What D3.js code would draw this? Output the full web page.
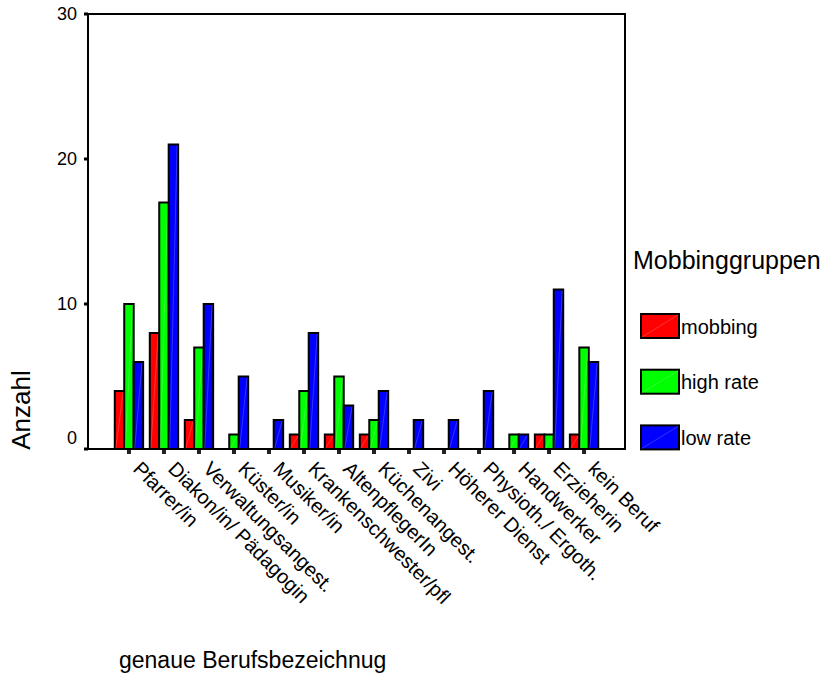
<!DOCTYPE html>
<html>
<head>
<meta charset="utf-8">
<script src="https://cdn.jsdelivr.net/npm/d3@7"></script>
<style>
  html, body { margin: 0; padding: 0; background: #fff; }
  svg { display: block; font-family: "Liberation Sans", Arial, Helvetica, sans-serif; }
</style>
</head>
<body>
<svg id="chart" width="832" height="678"></svg>
<script>
const categories = ["Pfarrer/in", "Diakon/in/ Pädagogin", "Verwaltungsangest.", "Küster/in", "Musiker/in",
  "Krankenschwester/pfl", "AltenpflegerIn", "Küchenangest.", "Zivi", "Höherer Dienst",
  "Physioth./ Ergoth.", "Handwerker", "Erzieherin", "kein Beruf"];
const seriesNames = ["mobbing", "high rate", "low rate"];
const mobbing  = [4, 8, 2, 0, 0, 1, 1, 1, 0, 0, 0, 0, 1, 1];
const highRate = [10, 17, 7, 1, 0, 4, 5, 2, 0, 0, 0, 1, 1, 7];
const lowRate  = [6, 21, 10, 5, 2, 8, 3, 4, 2, 2, 4, 1, 11, 6];
const yTicks = [0, 10, 20, 30];
const colors = ["#ff0000", "#00ff00", "#0000ff"];
const legendTitle = "Mobbinggruppen";
const xTitle = "genaue Berufsbezeichnug";
const yTitle = "Anzahl";

const seriesValues = [mobbing, highRate, lowRate];
const svg = d3.select("#chart");
const L = 88, T = 14, R = 625, B = 449;

const x = d3.scalePoint().domain(categories).range([L, R]).padding(1.17);
const groupW = x.step() * 0.81;
const xi = d3.scaleBand().domain(seriesNames).range([-groupW / 2, groupW / 2]);
const y = d3.scaleLinear().domain([0, 30]).range([B, T]);

// bars
const data = [];
categories.forEach((c, i) => seriesNames.forEach((s, j) => {
  data.push({ c, s, j, v: seriesValues[j][i] });
}));
const bars = svg.append("g").selectAll("g").data(data.filter(d => d.v > 0)).join("g");
bars.append("rect")
  .attr("x", d => x(d.c) + xi(d.s))
  .attr("y", d => y(d.v))
  .attr("width", xi.bandwidth())
  .attr("height", d => y(0) - y(d.v))
  .attr("fill", d => colors[d.j])
  .attr("stroke", "#000")
  .attr("stroke-width", 2);
bars.append("line")
  .attr("x1", d => x(d.c) + xi(d.s) + 1)
  .attr("y1", d => y(0) - 1)
  .attr("x2", d => x(d.c) + xi(d.s) + xi.bandwidth() - 1)
  .attr("y2", d => y(d.v) + 1)
  .attr("stroke", "#fff")
  .attr("stroke-opacity", 0.2)
  .attr("stroke-width", 1);

// frame
svg.append("rect").attr("x", L).attr("y", T).attr("width", R - L).attr("height", B - T)
  .attr("fill", "none").attr("stroke", "#000").attr("stroke-width", 2);

// y axis ticks
const yg = svg.append("g");
yg.selectAll("rect").data(yTicks).join("rect")
  .attr("x", L - 4).attr("y", d => y(d) - 1.5).attr("width", 4).attr("height", 3).attr("fill", "#000");
yg.selectAll("text").data(yTicks).join("text")
  .attr("x", 77).attr("y", d => y(d) + (d === 0 ? -11 : 0))
  .attr("dy", "0.35em").attr("text-anchor", "end")
  .attr("font-size", 18).attr("fill", "#000")
  .text(d => d);

// x axis ticks
const xg = svg.append("g");
xg.selectAll("rect").data(categories).join("rect")
  .attr("x", d => x(d) - 2).attr("y", B + 1).attr("width", 4).attr("height", 4).attr("fill", "#222");
xg.selectAll("text").data(categories).join("text")
  .attr("transform", d => `translate(${x(d) + 3},${B + 21}) rotate(45)`)
  .attr("text-anchor", "start").attr("font-size", 20).attr("fill", "#000")
  .text(d => d);

// axis titles
svg.append("text").attr("transform", `translate(30,410) rotate(-90)`)
  .attr("text-anchor", "middle").attr("font-size", 26).attr("fill", "#000").text(yTitle);
svg.append("text").attr("x", 119).attr("y", 668)
  .attr("font-size", 23).attr("fill", "#000").text(xTitle);

// legend
const lg = svg.append("g");
lg.append("text").attr("x", 633).attr("y", 269).attr("font-size", 25).attr("fill", "#000").text(legendTitle);
const items = lg.selectAll("g").data(seriesNames).join("g")
  .attr("transform", (d, i) => `translate(641,${314 + i * 55.7})`);
items.append("rect").attr("width", 38).attr("height", 24)
  .attr("fill", (d, i) => colors[i]).attr("stroke", "#000").attr("stroke-width", 2);
items.append("line").attr("x1", 1).attr("y1", 23).attr("x2", 37).attr("y2", 1)
  .attr("stroke", "#fff").attr("stroke-opacity", 0.2).attr("stroke-width", 1);
items.append("text").attr("x", 40).attr("y", 19.5).attr("font-size", 20).attr("fill", "#000").text(d => d);
</script>
</body>
</html>
